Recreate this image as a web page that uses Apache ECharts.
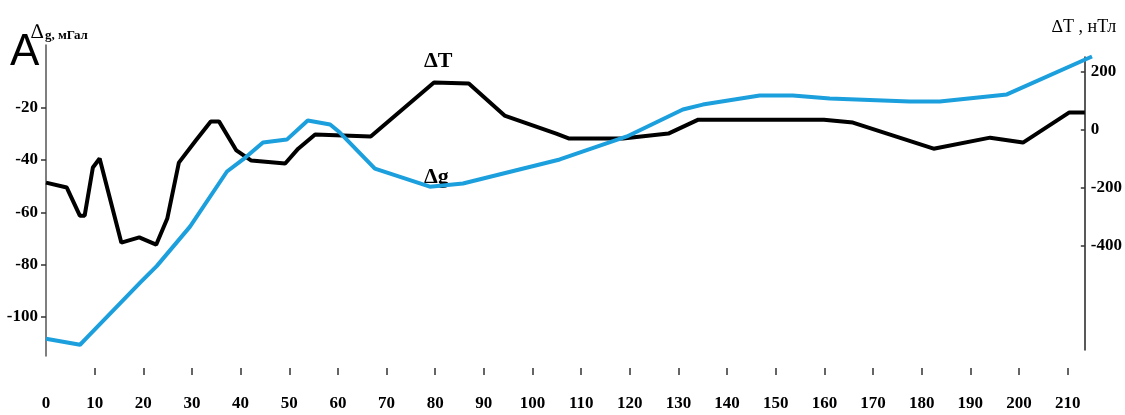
<!DOCTYPE html>
<html>
<head>
<meta charset="utf-8">
<script src="https://cdn.jsdelivr.net/npm/echarts@6/dist/echarts.min.js"></script>
<style>html,body{margin:0;padding:0;background:#fff}#c{width:1125px;height:415px}</style>
</head>
<body>
<div id="c"></div>
<script>
// Δg (mGal) profile — left axis
const gDist = [0, 7, 8.4, 19.3, 22.8, 29.6, 37.2, 40.5, 44.6, 49.5, 53.8, 58.4, 60.4, 67.6, 78.9, 85.7, 105.6, 119.4, 130.9, 135, 146.7, 153.5, 161.1, 177.5, 183.7, 197.5, 215];
const gVal  = [-108.4, -110.7, -108, -87, -80.5, -65.5, -44.4, -39.8, -33.3, -32.2, -24.9, -26.4, -29.5, -43.3, -50.2, -49, -39.8, -31, -20.7, -18.8, -15.3, -15.3, -16.5, -17.6, -17.6, -14.9, -0.4];
// ΔT (nT) profile — right axis
const tDist = [0, 4.3, 7, 8, 9.7, 11.1, 15.6, 19.3, 22.8, 25.1, 27.5, 31, 34.1, 35.8, 39.4, 42.5, 49.5, 52.2, 55.7, 67.2, 80.3, 87.5, 94.9, 105.6, 108.3, 119.4, 128.8, 135, 161, 167, 183.7, 195.4, 202.2, 211.8, 215];
const tVal  = [-183, -200, -297, -297, -131, -100, -390, -372, -397, -307, -114, -38, 28, 28, -72, -107, -117, -66, -17, -24, 162, 159, 48, -14, -31, -31, -14, 34, 34, 24, -66, -28, -45, 59, 59];
// tick labels
const xLabels = [0, 10, 20, 30, 40, 50, 60, 70, 80, 90, 100, 110, 120, 130, 140, 150, 160, 170, 180, 190, 200, 210];
const xTicks = xLabels.filter(v => v > 0);
const leftTicks = [-100, -80, -60, -40, -20];
const rightTicks = [-400, -200, 0, 200];

const gData = gDist.map((d, i) => [d, gVal[i]]);
const tData = tDist.map((d, i) => [d, tVal[i]]);

const labFont = {color: '#000', fontFamily: "'Liberation Serif', serif", fontWeight: 'bold', fontSize: 17};
const hidden = {show: false, axisLine: {show: false, onZero: false}, axisTick: {show: false}, axisLabel: {show: false}, splitLine: {show: false}};

const chart = echarts.init(document.getElementById('c'), null, {renderer: 'canvas'});
chart.setOption({
  animation: false,
  backgroundColor: '#fff',
  grid: [
    {left: 46, right: 33, top: 45, height: 311},
    {left: 46, right: 33, top: 57, height: 293},
    {left: 46, right: 33, top: 45, height: 323}
  ],
  xAxis: [
    Object.assign({type: 'value', gridIndex: 0, min: 0, max: 215}, hidden),
    Object.assign({type: 'value', gridIndex: 1, min: 0, max: 215}, hidden),
    {type: 'value', gridIndex: 2, min: 0, max: 215, position: 'bottom',
     axisLine: {show: false, onZero: false},
     axisTick: {show: true, length: 7, customValues: xTicks, lineStyle: {color: '#333', width: 1.5}},
     axisLabel: Object.assign({customValues: xLabels, margin: 27}, labFont),
     splitLine: {show: false}}
  ],
  yAxis: [
    {type: 'value', gridIndex: 0, position: 'left', min: -115, max: 4,
     axisLine: {show: true, onZero: false, lineStyle: {color: '#555', width: 1.5}},
     axisTick: {show: true, length: 5, customValues: leftTicks, lineStyle: {color: '#333', width: 1.5}},
     axisLabel: Object.assign({customValues: leftTicks, margin: 8}, labFont),
     splitLine: {show: false}},
    {type: 'value', gridIndex: 1, position: 'right', min: -760, max: 250,
     axisLine: {show: true, onZero: false, lineStyle: {color: '#222', width: 1.5}},
     axisTick: {show: true, inside: true, length: 4, customValues: rightTicks, lineStyle: {color: '#333', width: 1.5}},
     axisLabel: Object.assign({customValues: rightTicks, margin: 6}, labFont),
     splitLine: {show: false}},
    Object.assign({type: 'value', gridIndex: 2, min: 0, max: 1}, hidden)
  ],
  series: [
    {type: 'line', name: 'ΔT', xAxisIndex: 1, yAxisIndex: 1, data: tData, showSymbol: false, z: 2,
     lineStyle: {color: '#000', width: 4}},
    {type: 'line', name: 'Δg', xAxisIndex: 0, yAxisIndex: 0, data: gData, showSymbol: false, z: 3,
     lineStyle: {color: '#1c9fdd', width: 4}}
  ],
  graphic: [
    {type: 'text', left: 10, top: 31, style: {text: 'A', font: '44px "Liberation Sans Narrow", "Liberation Sans", sans-serif', fill: '#000'}},
    {type: 'text', left: 31, top: 22, style: {text: '∆', font: '21px "Liberation Serif", serif', fill: '#000'}},
    {type: 'text', left: 45, top: 29, style: {text: 'g, мГал', font: 'bold 13px "Liberation Serif", serif', fill: '#000'}},
    {type: 'text', left: 1052, top: 18, style: {text: '∆T , нТл', font: '18px "Liberation Serif", serif', fill: '#000'}},
    {type: 'text', left: 424, top: 50, style: {text: 'ΔT', font: 'bold 22px "Liberation Serif", serif', fill: '#000'}},
    {type: 'text', left: 424, top: 166, style: {text: 'Δg', font: 'bold 22px "Liberation Serif", serif', fill: '#000'}}
  ]
});
</script>
</body>
</html>
